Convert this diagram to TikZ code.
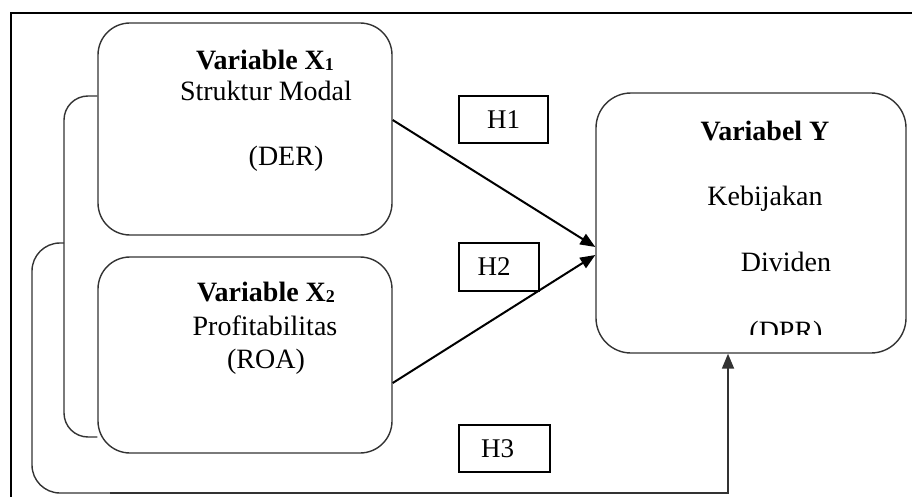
\documentclass[tikz,border=0pt]{standalone}
\usepackage{fontspec}
\setmainfont{Liberation Serif}
\usetikzlibrary{arrows.meta}
\begin{document}
\begin{tikzpicture}[x=1pt,y=-1pt,
  varbox/.style={draw=black!80,line width=1.4pt,rounded corners=32pt,inner sep=0pt},
  hbox/.style={draw=black,line width=1.4pt,inner sep=0pt,font=\fontsize{27}{27}\selectfont},
  txt/.style={inner sep=0pt,anchor=base,font=\fontsize{28}{32}\selectfont},
  btxt/.style={txt,font=\fontsize{28}{32}\selectfont\bfseries},
  conn/.style={line width=2pt,-{Triangle[length=15pt,width=12pt]}},
  brk/.style={draw=black!80,line width=1.4pt}]
\useasboundingbox (0,0) rectangle (912,497);
% frame
\draw[line width=2pt] (11,497) -- (11,13) -- (912,13);
% boxes
\node[varbox,minimum width=294pt,minimum height=212pt] (x1) at (245,129) {};
\node[varbox,minimum width=294pt,minimum height=196pt] (x2) at (245,355) {};
\node[varbox,rounded corners=35pt,minimum width=310pt,minimum height=260pt] (y) at (751,223) {};
% texts X1
\node[btxt] (x1a) at (265,70) {Variable X\raisebox{-1pt}{\fontsize{18}{18}\selectfont 1}};
\node[txt] (x1b) at (266,101) {Struktur Modal};
\node[txt] (x1c) at (286,166) {(DER)};
% texts X2
\node[btxt] (x2a) at (266,301) {Variable X\raisebox{-1pt}{\fontsize{18}{18}\selectfont 2}};
\node[txt] (x2b) at (265,335) {Profitabilitas};
\node[txt] (x2c) at (266,368) {(ROA)};
% texts Y
\node[btxt] (ya) at (765,141) {Variabel Y};
\node[txt] (yb) at (765,205) {Kebijakan};
\node[txt] (yc) at (786,271) {Dividen};
\begin{scope}
\clip (700,300) rectangle (860,334);
\node[txt] (yd) at (786,340) {(DPR)};
\end{scope}
% H boxes
\node[hbox,minimum width=89pt,minimum height=47pt] (h1) at (503.5,119.5) {H1};
\node[hbox,minimum width=80pt,minimum height=48pt] (h2) at (499,267) {\hspace*{-10pt}H2};
\node[hbox,minimum width=91pt,minimum height=47pt] (h3) at (504.5,448.5) {\hspace*{-14pt}H3};
% arrows
\draw[conn] ([yshift=9pt]x1.east) -- ([yshift=-24pt]y.west);
\draw[conn] ([yshift=-28pt]x2.east) -- ([yshift=-32pt]y.west);
% brackets
\coordinate (ib) at (64,437);
\coordinate (ob) at (64,243);
\coordinate (oc) at (110,493);
\draw[brk,rounded corners=24pt] ([yshift=33pt]x1.west) -| (ib) -- ([yshift=-82pt]x2.west);
\draw[brk,rounded corners=28pt] (ob) -| (32,493) -- (oc);
\draw[brk,-{Triangle[length=15pt,width=12pt]},line width=1.8pt] (oc) -| ([xshift=-23pt]y.south);
\end{tikzpicture}
\end{document}
